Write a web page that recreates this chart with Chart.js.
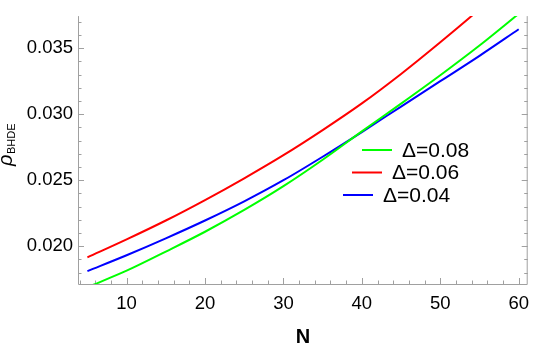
<!DOCTYPE html>
<html><head><meta charset="utf-8">
<script src="https://cdn.jsdelivr.net/npm/chart.js@4/dist/chart.umd.min.js"></script>
<style>html,body{margin:0;padding:0;background:#fff;overflow:hidden}canvas{display:block}</style>
</head><body>
<canvas id="c" width="538" height="346"></canvas>
<script>
// ---- data ----
const N = [5, 10, 15, 20, 25, 30, 35, 40, 45, 50, 55, 60];
const rhoDelta008 = [0.01690, 0.01815, 0.01960, 0.02110, 0.02275, 0.02455, 0.02655, 0.02870, 0.03080, 0.03295, 0.03520, 0.03760];
const rhoDelta006 = [0.01916, 0.02052, 0.02195, 0.02350, 0.02515, 0.02690, 0.02880, 0.03082, 0.03305, 0.03545, 0.03795, 0.04060];
const rhoDelta004 = [0.01812, 0.01932, 0.02060, 0.02195, 0.02340, 0.02500, 0.02678, 0.02865, 0.03058, 0.03250, 0.03442, 0.03643];
const seriesLabels = ['Δ=0.08', 'Δ=0.06', 'Δ=0.04'];
const xTickValues = [10, 20, 30, 40, 50, 60];
const yTickValues = [0.020, 0.025, 0.030, 0.035];
const xTitle = 'N';
const yTitleMain = 'ρ';
const yTitleSub = 'BHDE';

const FONT = "'Liberation Sans', Arial, sans-serif";
const colors = ['#00ff00', '#ff0000', '#0000ff'];
const seriesValues = [rhoDelta008, rhoDelta006, rhoDelta004];

const pts = arr => N.map((n, i) => ({x: n, y: arr[i]}));

const frameTicks = {
  id: 'frameTicks',
  beforeDatasetsDraw(chart) {
    const {ctx, chartArea: {left, right, top, bottom}, scales: {x, y}} = chart;
    ctx.save();
    ctx.strokeStyle = '#a0a0a0';
    ctx.lineWidth = 1;
    ctx.beginPath();
    ctx.moveTo(left + 0.5, top);
    ctx.lineTo(left + 0.5, bottom + 0.5);
    ctx.lineTo(right - 0.5, bottom + 0.5);
    ctx.lineTo(right - 0.5, top);
    for (let v = 4; v <= 60; v += 2) {
      const major = v % 10 === 0;
      const px = Math.round(x.getPixelForValue(v)) + 0.5;
      const len = major ? 6 : 3.5;
      ctx.moveTo(px, bottom);
      ctx.lineTo(px, bottom - len);
    }
    for (let k = 18; k <= 37; k++) {
      const v = k / 1000;
      const major = k % 5 === 0;
      const py = Math.round(y.getPixelForValue(v)) + 0.5;
      const len = major ? 6 : 3.5;
      ctx.moveTo(left, py); ctx.lineTo(left + len, py);
      ctx.moveTo(right, py); ctx.lineTo(right - len, py);
    }
    ctx.stroke();
    ctx.restore();
  },
  afterDraw(chart) {
    const {ctx} = chart;
    ctx.save();
    ctx.fillStyle = '#000';
    ctx.translate(12, 145);
    ctx.rotate(-Math.PI / 2);
    ctx.font = `italic 20px ${FONT}`;
    const wMain = ctx.measureText(yTitleMain).width;
    ctx.font = `11px ${FONT}`;
    const wSub = ctx.measureText(yTitleSub).width;
    const x0 = -(wMain + wSub) / 2;
    ctx.textBaseline = 'alphabetic';
    ctx.font = `italic 20px ${FONT}`;
    ctx.fillText(yTitleMain, x0, 0);
    ctx.font = `11px ${FONT}`;
    ctx.fillText(yTitleSub, x0 + wMain + 0.5, 3);
    ctx.restore();

    const ds = chart.data.datasets;
    const rows = [
      {lx: 362, ly: 150},
      {lx: 352, ly: 172.5},
      {lx: 343, ly: 195}
    ];
    ctx.save();
    ctx.font = `21px ${FONT}`;
    ctx.textBaseline = 'alphabetic';
    ds.forEach((d, i) => {
      const r = rows[i];
      ctx.strokeStyle = d.borderColor;
      ctx.lineWidth = 2;
      ctx.beginPath();
      ctx.moveTo(r.lx, r.ly);
      ctx.lineTo(r.lx + 30, r.ly);
      ctx.stroke();
      ctx.fillStyle = '#000';
      ctx.fillText(d.label, r.lx + 40, r.ly + 6.5);
    });
    ctx.restore();
  }
};

new Chart(document.getElementById('c'), {
  type: 'line',
  data: {
    datasets: seriesValues.map((arr, i) => ({
      label: seriesLabels[i],
      data: pts(arr),
      borderColor: colors[i],
      backgroundColor: colors[i],
      borderWidth: 2,
      pointRadius: 0,
      fill: false,
      cubicInterpolationMode: 'monotone',
      clip: 0
    }))
  },
  options: {
    responsive: false,
    animation: false,
    devicePixelRatio: 1,
    layout: {padding: {left: 0, right: 1, top: 0, bottom: 0}},
    plugins: {legend: {display: false}, tooltip: {enabled: false}},
    scales: {
      x: {
        type: 'linear',
        min: 3.8, max: 61.15,
        grid: {display: false, drawTicks: false},
        border: {display: false},
        afterBuildTicks: s => { s.ticks = xTickValues.map(v => ({value: v})); },
        afterFit: s => { s.height = 62; },
        ticks: {
          padding: 9,
          color: '#000',
          font: {family: FONT, size: 18.5},
          maxRotation: 0,
          callback: v => String(v)
        },
        title: {
          display: true,
          text: xTitle,
          color: '#000',
          padding: 0,
          font: {family: FONT, size: 20, weight: 'bold', lineHeight: '18px'}
        }
      },
      y: {
        type: 'linear',
        min: 0.017143, max: 0.037429,
        grid: {display: false, drawTicks: false},
        border: {display: false},
        afterBuildTicks: s => { s.ticks = yTickValues.map(v => ({value: v})); },
        afterFit: s => { s.width = 78; },
        ticks: {
          padding: 5,
          color: '#000',
          font: {family: FONT, size: 18.5},
          callback: v => Number(v).toFixed(3)
        }
      }
    }
  },
  plugins: [frameTicks]
});
</script>
</body></html>
